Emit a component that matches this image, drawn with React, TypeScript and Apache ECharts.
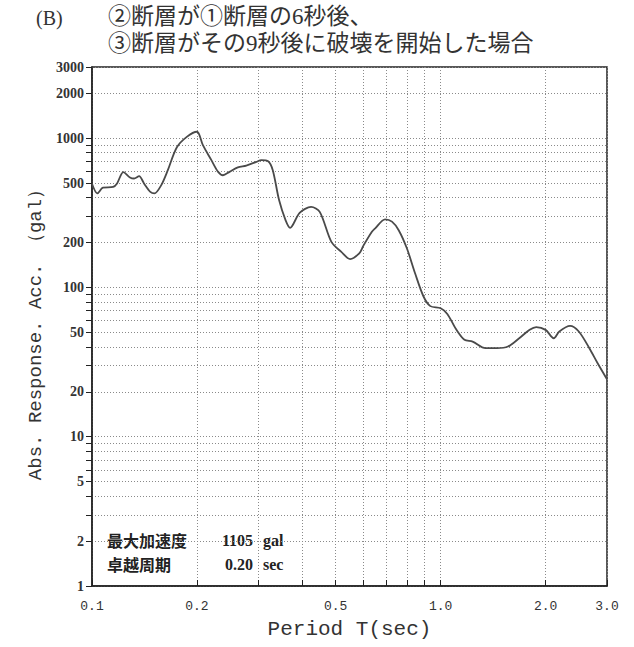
import React, { useEffect, useRef } from "react";
import * as echarts from "echarts";

// Period T (sec) and absolute response acceleration (gal)
const periods = [
  0.1, 0.1036, 0.1075, 0.115, 0.118, 0.123, 0.1285, 0.132, 0.1365, 0.141,
  0.147, 0.151, 0.158, 0.165, 0.175, 0.187, 0.2, 0.208, 0.22, 0.23,
  0.2375, 0.248, 0.262, 0.277, 0.296, 0.306, 0.32, 0.33, 0.344, 0.359,
  0.37, 0.394, 0.425, 0.45, 0.486, 0.519, 0.55, 0.585, 0.6, 0.635,
  0.649, 0.693, 0.725, 0.758, 0.8, 0.845, 0.893, 0.934, 1.0, 1.045,
  1.11, 1.17, 1.235, 1.345, 1.45, 1.56, 1.68, 1.8, 1.88, 2.0,
  2.11, 2.19, 2.35, 2.49, 2.67, 2.82, 3.0,
];
const accels = [
  495, 427, 466, 472, 498, 593, 546, 537, 557, 498,
  437, 427, 485, 611, 867, 1021, 1105, 898, 713, 595,
  565, 595, 637, 656, 694, 713, 702, 611, 385, 283,
  251, 316, 347, 321, 202, 173, 155, 170, 190, 236,
  249, 286, 276, 242, 183, 124, 87, 75, 72.6, 66.5,
  52, 44.6, 43.4, 39.2, 39.2, 40.2, 45.7, 52, 54.2, 52,
  45.7, 50.7, 55.3, 50.7, 39.2, 31.1, 24.3,
];

const xLabelValues = [0.1, 0.2, 0.5, 1, 2, 3];
const xGridValues = [0.1, 0.2, 0.3, 0.4, 0.5, 0.6, 0.7, 0.8, 0.9, 1, 2, 3];
const yLabelValues = [1, 2, 5, 10, 20, 50, 100, 200, 500, 1000, 2000, 3000];
const yGridValues = [
  1, 2, 3, 4, 5, 6, 7, 8, 9,
  10, 20, 30, 40, 50, 60, 70, 80, 90,
  100, 200, 300, 400, 500, 600, 700, 800, 900,
  1000, 2000, 3000,
];

const panelLabel = "(B)";
const titleLines = ["②断層が①断層の6秒後、", "③断層がその9秒後に破壊を開始した場合"];
const annoNames = ["最大加速度", "卓越周期"];
const annoValues = ["1105", "0.20"];
const annoUnits = ["gal", "sec"];

const xName = "Period T(sec)";
const yName = "Abs. Response. Acc. （gal）";

const lg = (v: number) => Math.log10(v);

export default function App() {
  const ref = useRef<HTMLDivElement>(null);
  useEffect(() => {
    if (!ref.current) return;
    const chart = echarts.init(ref.current, undefined, { renderer: "svg" });
    const data = periods.map((t, i) => [lg(t), lg(accels[i])]);
    const gridStyle = { color: "#8a8a8a", width: 1, type: [1, 2] as any };
    const graphics: any[] = [
      {
        type: "text",
        x: 36,
        y: 18,
        style: {
          text: panelLabel,
          font: "20px 'Liberation Serif'",
          fill: "#333",
          verticalAlign: "middle",
          textVerticalAlign: "middle",
        },
      },
      ...titleLines.map((t, i) => ({
        type: "text",
        x: 108,
        y: 16 + i * 27,
        style: {
          text: t,
          font: "23px 'Liberation Serif', 'Noto Sans CJK JP'",
          fill: "#333",
          verticalAlign: "middle",
          textVerticalAlign: "middle",
        },
      })),
      {
        type: "text",
        x: 36,
        y: 330,
        rotation: Math.PI / 2,
        style: {
          text: yName,
          font: "19px 'Liberation Mono'",
          fill: "#333",
          align: "center",
          textAlign: "center",
          verticalAlign: "middle",
          textVerticalAlign: "middle",
        },
      },
    ];
    annoNames.forEach((n, i) => {
      const y = 540 + i * 24;
      graphics.push(
        {
          type: "text",
          x: 107,
          y,
          style: {
            text: n,
            font: "bold 16px 'Noto Sans CJK JP'",
            fill: "#222",
            verticalAlign: "middle",
            textVerticalAlign: "middle",
          },
        },
        {
          type: "text",
          x: 253,
          y,
          style: {
            text: annoValues[i],
            font: "bold 16px 'Liberation Serif'",
            fill: "#222",
            align: "right",
            textAlign: "right",
            verticalAlign: "middle",
            textVerticalAlign: "middle",
          },
        },
        {
          type: "text",
          x: 263,
          y,
          style: {
            text: annoUnits[i],
            font: "bold 16px 'Liberation Serif'",
            fill: "#222",
            verticalAlign: "middle",
            textVerticalAlign: "middle",
          },
        }
      );
    });

    chart.setOption({
      animation: false,
      backgroundColor: "#fff",
      grid: {
        left: 92,
        right: 27,
        top: 67,
        bottom: 61,
        show: true,
        borderColor: "#222",
        borderWidth: 1.5,
        backgroundColor: "transparent",
      },
      xAxis: {
        type: "value",
        min: lg(0.1),
        max: lg(3),
        name: xName,
        nameLocation: "middle",
        nameGap: 33,
        nameTextStyle: { fontFamily: "Liberation Mono", fontSize: 21, color: "#333" },
        axisLine: { show: true, onZero: false, lineStyle: { color: "#222", width: 1.5 } },
        axisTick: {
          show: true,
          inside: true,
          length: 6,
          customValues: xGridValues.map(lg),
          lineStyle: { color: "#222" },
        },
        axisLabel: {
          customValues: xLabelValues.map(lg),
          formatter: (v: number) => Math.pow(10, v).toFixed(1),
          fontFamily: "Liberation Mono",
          fontSize: 13,
          color: "#333",
          margin: 14,
        },
        splitLine: { show: true, lineStyle: gridStyle },
      },
      yAxis: {
        type: "value",
        min: lg(1),
        max: lg(3000),
        axisLine: { show: true, onZero: false, lineStyle: { color: "#222", width: 1.5 } },
        axisTick: {
          show: true,
          inside: false,
          length: 6,
          customValues: yGridValues.map(lg),
          lineStyle: { color: "#222" },
        },
        axisLabel: {
          customValues: yLabelValues.map(lg),
          formatter: (v: number) => String(Math.round(Math.pow(10, v))),
          fontFamily: "Liberation Serif",
          fontSize: 14,
          fontWeight: "bold",
          color: "#333",
          margin: 8,
        },
        splitLine: { show: true, lineStyle: gridStyle },
      },
      series: [
        {
          type: "line",
          data,
          showSymbol: false,
          smooth: 0.3,
          lineStyle: { color: "#4a4a4a", width: 1.8 },
        },
      ],
      graphic: graphics,
    });
    return () => chart.dispose();
  }, []);
  return (
    <div
      ref={ref}
      style={{ position: "fixed", left: 0, top: 0, width: 634, height: 647, background: "#fff" }}
    />
  );
}
